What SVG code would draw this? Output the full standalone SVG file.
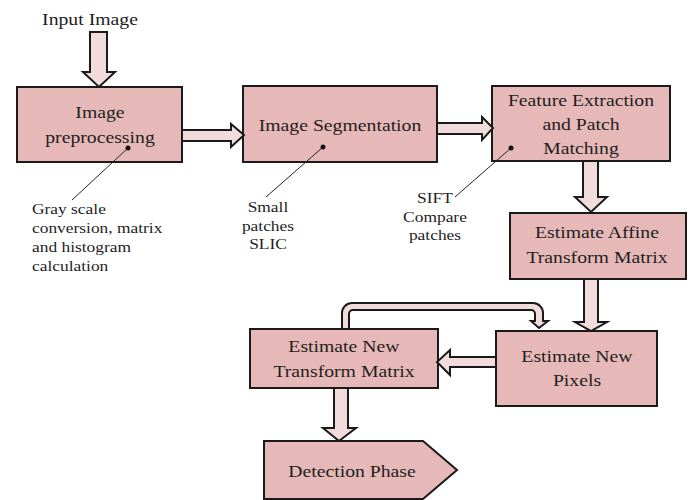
<svg xmlns="http://www.w3.org/2000/svg" width="693" height="500" viewBox="0 0 693 500">
<style>
.box{fill:#e6b9b8;stroke:#1a1a1a;stroke-width:2}
.arr{fill:#f2dcdb;stroke:#1a1a1a;stroke-width:2;stroke-linejoin:miter}
.lead{stroke:#222;stroke-width:1;fill:none}
.dot{fill:#111}
text{font-family:"Liberation Serif","Times New Roman",serif;fill:#1e1e1e}
.bt{font-size:17px;text-anchor:middle;transform-box:fill-box;transform-origin:center;transform:scaleX(1.16)}
.at{font-size:15px;text-anchor:middle;transform-box:fill-box;transform-origin:center;transform:scaleX(1.16)}
.al{font-size:15px;transform-box:fill-box;transform-origin:left;transform:scaleX(1.16)}
</style>
<rect width="693" height="500" fill="#fff"/>
<g id="input-label"><text class="bt" x="90" y="25">Input Image</text></g>
<g id="preprocessing">
<rect class="box" x="17" y="87" width="165" height="75"/>
<text class="bt" x="100" y="118">Image</text>
<text class="bt" x="100" y="143">preprocessing</text>
</g>
<g id="segmentation">
<rect class="box" x="243" y="86" width="194" height="76"/>
<text class="bt" x="340" y="131">Image Segmentation</text>
</g>
<g id="feature">
<rect class="box" x="492" y="86" width="178" height="75"/>
<text class="bt" x="581" y="106">Feature Extraction</text>
<text class="bt" x="581" y="130">and Patch</text>
<text class="bt" x="581" y="154">Matching</text>
</g>
<g id="affine">
<rect class="box" x="510" y="213" width="176" height="66"/>
<text class="bt" x="597" y="238">Estimate Affine</text>
<text class="bt" x="597" y="263">Transform Matrix</text>
</g>
<g id="pixels">
<rect class="box" x="496" y="331" width="161" height="75"/>
<text class="bt" x="577" y="362">Estimate New</text>
<text class="bt" x="577" y="386">Pixels</text>
</g>
<g id="newtransform">
<rect class="box" x="250" y="329" width="188" height="59"/>
<text class="bt" x="344" y="352">Estimate New</text>
<text class="bt" x="344" y="377">Transform Matrix</text>
</g>
<g id="detection">
<path class="box" d="M264,441 H423 L457,470 L423,499 H264 Z"/>
<text class="bt" x="352" y="477">Detection Phase</text>
</g>
<g id="connectors">
<path class="arr" d="M90,32 H107 V72 H115 L99,87 L83,72 H90 Z"/>
<path class="arr" d="M182,130 H231 V124 L244,135 L231,147 V141 H182 Z"/>
<path class="arr" d="M437,123 H482 V117 L493,128 L482,140 V134 H437 Z"/>
<path class="arr" d="M583,161 H598 V197 H607 L591,212 L575,197 H583 Z"/>
<path class="arr" d="M584,279 H598 V322 H607 L591,331 L575,322 H584 Z"/>
<path class="arr" d="M496,357 H450 V350 L437,362 L450,375 V367 H496 Z"/>
<path class="arr" d="M342,329 V313 A10,10 0 0 1 352,303 H533 A10,10 0 0 1 543,313 V321 H548 L539,328 L531,321 H535 V314 A4,4 0 0 0 531,310 H353 A4,4 0 0 0 349,314 V329 Z"/>
<path class="arr" d="M334,388 H348 V428 H356 L339,441 L323,428 H334 Z"/>
</g>
<g id="annotations">
<line class="lead" x1="128" y1="148" x2="72" y2="200"/>
<circle class="dot" cx="128" cy="148" r="2.5"/>
<text class="al" x="32" y="214">Gray scale</text>
<text class="al" x="32" y="233">conversion, matrix</text>
<text class="al" x="32" y="252">and histogram</text>
<text class="al" x="32" y="271">calculation</text>
<line class="lead" x1="323" y1="147" x2="266" y2="197"/>
<circle class="dot" cx="323" cy="147" r="2.5"/>
<text class="at" x="268" y="212">Small</text>
<text class="at" x="268" y="231">patches</text>
<text class="at" x="268" y="249">SLIC</text>
<line class="lead" x1="511" y1="148" x2="455" y2="197"/>
<circle class="dot" cx="511" cy="148" r="2.5"/>
<text class="at" x="435" y="203">SIFT</text>
<text class="at" x="435" y="222">Compare</text>
<text class="at" x="435" y="240">patches</text>
</g>
</svg>
